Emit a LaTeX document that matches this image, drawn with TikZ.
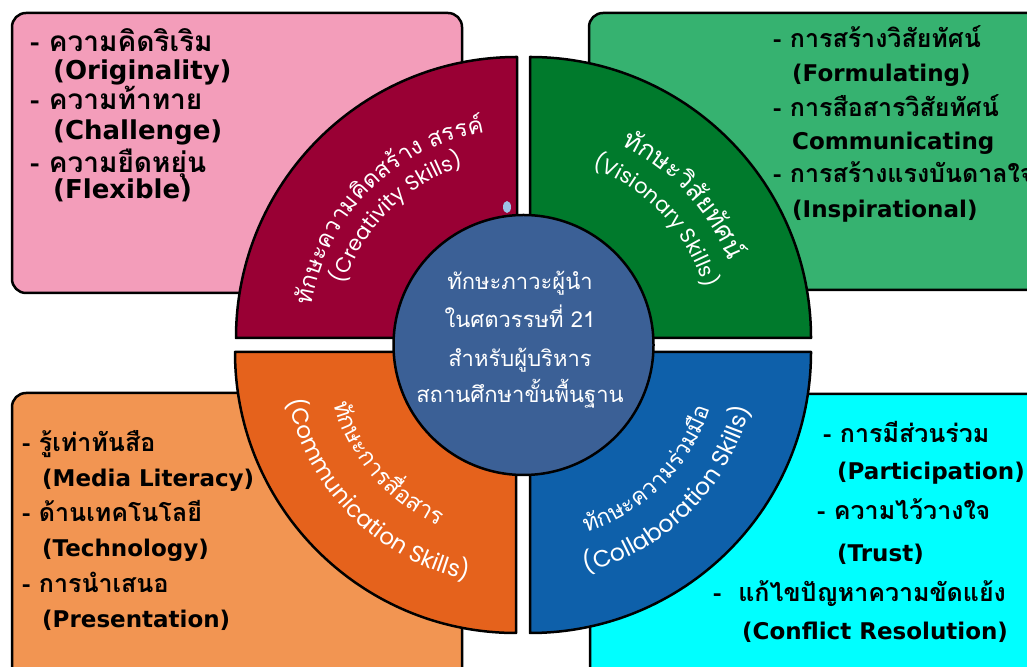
\documentclass[tikz,border=0pt]{standalone}
\usepackage{fontspec}
\usetikzlibrary{decorations.text}
\newfontfamily\thaifont[Script=Thai]{Loma}
\newfontfamily\latfont{DejaVu Sans}
\newfontfamily\popfont{Poppins}

\definecolor{pinkbox}{HTML}{F39DBA}
\definecolor{maroonsec}{HTML}{990034}
\definecolor{greenbox}{HTML}{36B270}
\definecolor{greensec}{HTML}{007A2C}
\definecolor{orangebox}{HTML}{F29552}
\definecolor{orangesec}{HTML}{E5621C}
\definecolor{cyanbox}{HTML}{00FFFF}
\definecolor{bluesec}{HTML}{0E60AA}
\definecolor{hubblue}{HTML}{3B6096}
\definecolor{dropblue}{HTML}{9DC3E6}

% item text in the boxes
\newcommand\boxthai{\thaifont\bfseries\fontsize{25}{28}\selectfont}
\newcommand\boxlat{\latfont\bfseries\fontsize{23}{28}\selectfont}
\newcommand\bigthai{\thaifont\bfseries\fontsize{28}{30}\selectfont}
\newcommand\biglat{\latfont\bfseries\fontsize{26}{30}\selectfont}
% curved sector labels
\newcommand\secthai[1]{\thaifont\fontsize{#1}{#1}\selectfont}
\newcommand\seclat[1]{\popfont\fontsize{#1}{#1}\selectfont}
% hub text
\newcommand\hubthai{\thaifont\fontsize{22}{24}\selectfont}

\tikzset{
  infobox/.style={draw=black, line width=2.5pt, rounded corners=14pt},
  sector/.style={draw=black, line width=2.5pt, line join=round},
  itemline/.style={anchor=base west, inner sep=0pt, text=black},
  hubline/.style={anchor=base, inner sep=0pt, text=white},
  arclabel/.style={decorate, decoration={text along path, text align=center, text color=white, text={#1}}}
}

\begin{document}
\begin{tikzpicture}[x=1pt,y=1pt]
\useasboundingbox (0,0) rectangle (1027,666);
\clip (0,0) rectangle (1027,666);
\fill[white] (0,0) rectangle (1027,666);

% four outer boxes
\draw[infobox, fill=pinkbox]   (12,373) rectangle (462,653);
\draw[infobox, fill=greenbox]  (589,376) rectangle (1060,653);
\draw[infobox, fill=orangebox] (12,-30) rectangle (462,273);
\draw[infobox, fill=cyanbox]   (590,-30) rectangle (1060,272);

% corners of the four quarter sectors
\coordinate (cm) at (517,328);
\coordinate (cg) at (530,328);
\coordinate (co) at (516,314);
\coordinate (cb) at (530,314);

\draw[sector, fill=maroonsec] (cm) -- ++(-281,0) arc[start angle=180, end angle=90, radius=281] -- cycle;
\draw[sector, fill=greensec]  (cg) -- ++(0,281) arc[start angle=90, end angle=0, radius=281] -- cycle;
\draw[sector, fill=orangesec] (co) -- ++(0,-281) arc[start angle=270, end angle=180, radius=281] -- cycle;
\draw[sector, fill=bluesec]   (cb) -- ++(281,0) arc[start angle=0, end angle=-90, radius=281] -- cycle;

% curved sector labels
\path[arclabel={|\secthai{23.5}|{ทั}กษะความ{คิ}ดส{ร้}าง สรร{ค์}}]
  ([shift={(179:208)}]cm) arc[start angle=179, end angle=91, radius=208];
\path[arclabel={|\seclat{21}|(Creativity Skills)}]
  ([shift={(179:180)}]cm) arc[start angle=179, end angle=91, radius=180];

\path[arclabel={|\secthai{26}|{ทั}กษะ{วิ}{สั}ย{ทั}ศ{น์}}]
  ([shift={(87:213)}]cg) arc[start angle=87, end angle=-1, radius=213];
\path[arclabel={|\seclat{21}|(Visionary Skills)}]
  ([shift={(87:181)}]cg) arc[start angle=87, end angle=-1, radius=181];

\path[arclabel={|\secthai{23.5}|{ทั}กษะการ{สื่}อสาร}]
  ([shift={(177:190)}]co) arc[start angle=177, end angle=265, radius=190];
\path[arclabel={|\seclat{23}|(Communication Skills)}]
  ([shift={(181:233)}]co) arc[start angle=181, end angle=269, radius=233];

\path[arclabel={|\secthai{23}|{ทั}กษะความ{ร่}วม{มื}อ}]
  ([shift={(271:189)}]cb) arc[start angle=271, end angle=359, radius=189];
\path[arclabel={|\seclat{23.5}|(Collaboration Skills)}]
  ([shift={(271:227)}]cb) arc[start angle=271, end angle=359, radius=227];

% small droplet above the hub
\fill[dropblue] (507,459) ellipse[x radius=4, y radius=6];

% central hub
\node[draw=black, line width=2.5pt, fill=hubblue, circle, minimum size=260pt, inner sep=0pt] (hub) at (523.5,321) {};
\node[hubline] (h1) at (520,376) {\hubthai ทักษะภาวะผู้นำ};
\node[hubline] (h2) at (520,338) {\hubthai ในศตวรรษที่ 21};
\node[hubline] (h3) at (520,299) {\hubthai สำหรับผู้บริหาร};
\node[hubline] (h4) at (520,263) {\hubthai สถานศึกษาขั้นพื้นฐาน};

% creativity items
\node[itemline] (p1) at (30,614) {\bigthai - ความคิดริเริม};
\node[itemline] (p2) at (53,586) {\biglat (Originality)};
\node[itemline] (p3) at (30,556) {\bigthai - ความท้าทาย};
\node[itemline] (p4) at (53,526) {\biglat (Challenge)};
\node[itemline] (p5) at (30,493) {\bigthai - ความยืดหยุ่น};
\node[itemline] (p6) at (53,467) {\biglat (Flexible)};

% visionary items
\node[itemline] (g1) at (773,618) {\boxthai - การสร้างวิสัยทัศน์};
\node[itemline] (g2) at (792,584) {\boxlat (Formulating)};
\node[itemline] (g3) at (773,549) {\boxthai - การสือสารวิสัยทัศน์};
\node[itemline] (g4) at (792,516) {\boxlat Communicating};
\node[itemline] (g5) at (773,483) {\boxthai - การสร้างแรงบันดาลใจ};
\node[itemline] (g6) at (792,448) {\boxlat (Inspirational)};

% communication items
\node[itemline] (o1) at (22,214) {\boxthai - รู้เท่าทันสือ};
\node[itemline] (o2) at (42,179) {\boxlat (Media Literacy)};
\node[itemline] (o3) at (22,144) {\boxthai - ด้านเทคโนโลยี};
\node[itemline] (o4) at (42,109) {\boxlat (Technology)};
\node[itemline] (o5) at (22,73)  {\boxthai - การนำเสนอ};
\node[itemline] (o6) at (42,38)  {\boxlat (Presentation)};

% collaboration items
\node[itemline] (c1) at (823,223) {\boxthai - การมีส่วนร่วม};
\node[itemline] (c2) at (837,186) {\boxlat (Participation)};
\node[itemline] (c3) at (817,146) {\boxthai - ความไว้วางใจ};
\node[itemline] (c4) at (837,104) {\boxlat (Trust)};
\node[itemline] (c5) at (713,64)  {\boxthai -\ \ แก้ไขปัญหาความขัดแย้ง};
\node[itemline] (c6) at (742,26)  {\boxlat (Conflict Resolution)};
\end{tikzpicture}
\end{document}
